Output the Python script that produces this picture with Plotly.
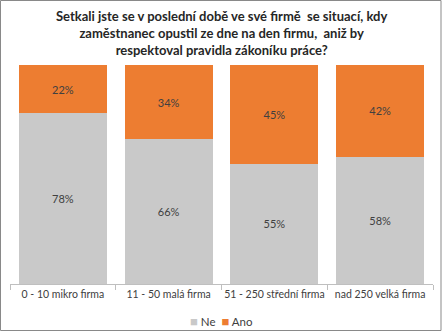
import plotly.graph_objects as go

categories = ["0 - 10 mikro firma", "11 - 50 malá firma", "51 - 250 střední firma", "nad 250 velká firma"]
ne_values = [78, 66, 55, 58]
ano_values = [22, 34, 45, 42]
series_names = ["Ne", "Ano"]
series_colors = ["#C9C9C9", "#ED7D31"]
title_text = ("Setkali jste se v poslední době ve své firmě  se situací, kdy<br>"
              "zaměstnanec opustil ze dne na den firmu,  aniž by<br>"
              "respektoval pravidla zákoníku práce?")

FONT = "Lato, 'Open Sans', sans-serif"
PLOT_H = 219

fig = go.Figure()
for name, vals, col in zip(series_names, [ne_values, ano_values], series_colors):
    fig.add_trace(go.Bar(
        x=categories, y=vals, name=name,
        marker=dict(color=col, line=dict(width=0)),
        text=[f"{v}%" for v in vals], textposition="inside",
        insidetextanchor="middle",
        textfont=dict(size=11, color="#404040", family=FONT),
        showlegend=False,
    ))

legend_html = "&nbsp;&nbsp;".join(
    f"<span style='color:{c}; font-size:13px'>■</span> {n}" for n, c in zip(series_names, series_colors)
)

fig.update_layout(
    barmode="stack",
    bargap=0.17,
    width=443, height=333,
    margin=dict(l=10, r=10, t=65, b=49, autoexpand=False),
    paper_bgcolor="white", plot_bgcolor="white",
    font=dict(family=FONT, size=11, color="#404040"),
    annotations=[
        dict(text=title_text, xref="paper", yref="paper", x=0.5, xanchor="center",
             y=1 + (65 - 6) / PLOT_H, yanchor="top", showarrow=False, align="center",
             font=dict(family=FONT, size=13, color="#262626", weight="bold")),
        dict(text=legend_html, xref="paper", yref="paper", x=0.5, xanchor="center",
             y=-37 / PLOT_H, yanchor="middle", showarrow=False,
             font=dict(family=FONT, size=11.5, color="#404040")),
    ],
    uniformtext=dict(minsize=8, mode="show"),
    shapes=[dict(type="rect", xref="paper", yref="paper",
                 x0=-9.5/423, x1=431/423, y0=-46.5/PLOT_H, y1=(PLOT_H+64.5)/PLOT_H,
                 line=dict(color="#898989", width=1), fillcolor="rgba(0,0,0,0)",
                 layer="below")],
)
fig.update_xaxes(
    type="category", tickson="boundaries", ticks="outside", ticklen=5,
    tickcolor="#BFBFBF", showline=True, linecolor="#BFBFBF", linewidth=1,
    tickangle=0, automargin=False,
    tickfont=dict(size=10.5, color="#404040", family=FONT), showgrid=False,
)
fig.update_yaxes(range=[0, 100], visible=False, showgrid=False)

fig.write_html("out.html")
